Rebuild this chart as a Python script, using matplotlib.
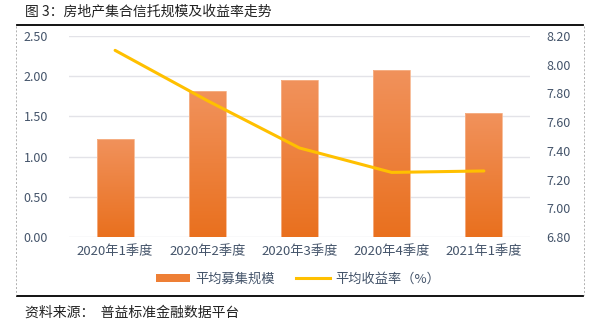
import numpy as np
import matplotlib.pyplot as plt
from matplotlib.lines import Line2D
from matplotlib.patches import Patch

plt.rcParams['font.family'] = ['Noto Sans CJK SC', 'DejaVu Sans']

# data
quarters = ['2020年1季度', '2020年2季度', '2020年3季度', '2020年4季度', '2021年1季度']
avg_scale = [1.22, 1.82, 1.95, 2.08, 1.54]       # 平均募集规模 (left axis)
avg_yield = [8.10, 7.75, 7.42, 7.25, 7.26]       # 平均收益率 % (right axis)

left_ticks = [0, 0.5, 1.0, 1.5, 2.0, 2.5]
right_ticks = [6.8, 7.0, 7.2, 7.4, 7.6, 7.8, 8.0, 8.2]

tick_col = '#44546A'
grid_col = '#E3E3E8'
line_col = '#FFC000'

fig = plt.figure(figsize=(5.97, 3.26), dpi=100)
ax = fig.add_axes([69/597, 1-237/326, (530-69)/597, (237-36)/326])
ax2 = ax.twinx()

x = np.arange(len(quarters))
bw = 0.40

# bars with a vertical gradient (light top, deeper orange bottom)
bars = ax.bar(x, avg_scale, width=bw, color='none', edgecolor='#F6B48C', linewidth=0.6, zorder=2)
top_c = np.array([241, 146, 92]) / 255
bot_c = np.array([233, 112, 30]) / 255
grad = np.linspace(0, 1, 256)[:, None]
img = top_c[None, None, :] * (1 - grad[..., None]) + bot_c[None, None, :] * grad[..., None]
for b in bars:
    x0, w, h = b.get_x(), b.get_width(), b.get_height()
    im = ax.imshow(img, extent=[x0, x0 + w, 0, h], aspect='auto', zorder=1.5, origin='upper')
    im.set_clip_path(b)

ax.set_xlim(-0.5, len(quarters) - 0.5)
ax.set_ylim(0, 2.5)
ax.set_yticks(left_ticks)
ax.set_yticklabels([f'{v:.2f}' for v in left_ticks])
ax.set_xticks(x)
ax.set_xticklabels(quarters)
ax.grid(axis='y', color=grid_col, linewidth=1.0, zorder=0)
ax.set_axisbelow(True)

ax2.plot(x, avg_yield, color=line_col, linewidth=2.2, solid_capstyle='round', zorder=3)
ax2.set_ylim(6.8, 8.2)
ax2.set_yticks(right_ticks)
ax2.set_yticklabels([f'{v:.2f}' for v in right_ticks])

for a in (ax, ax2):
    for s in a.spines.values():
        s.set_visible(False)
    a.tick_params(length=0, labelsize=9, colors=tick_col)
ax.tick_params(axis='y', pad=15)
ax2.tick_params(axis='y', pad=12)
ax.tick_params(axis='x', pad=6, labelsize=9.5)
ax.set_zorder(ax2.get_zorder() - 1)
ax2.patch.set_visible(False)

# legend
handles = [Patch(facecolor='#EE7F35', edgecolor='none'),
           Line2D([0], [0], color=line_col, linewidth=2.2)]
fig.legend(handles, ['平均募集规模', '平均收益率（%）'], loc='center', bbox_to_anchor=(298/597, 1-279/326),
           ncol=2, frameon=False, fontsize=9.5, labelcolor=tick_col, handlelength=2.6,
           handleheight=0.5, columnspacing=1.6, handletextpad=0.4)

# frame lines and texts
fig.add_artist(Line2D([17/597, 583/597], [1-25/326, 1-25/326], color='black', linewidth=1.3))
fig.add_artist(Line2D([17/597, 583/597], [1-296/326, 1-296/326], color='black', linewidth=1.3))
for xx in (16/597, 584/597):
    fig.add_artist(Line2D([xx, xx], [1-26/326, 1-295/326], color='#B0B0B0', linewidth=0.7, linestyle=(0, (2, 2))))

fig.text(25/597, 1-11/326, '图 3：房地产集合信托规模及收益率走势', fontsize=10, va='center', ha='left', color='#222222')
fig.text(25/597, 1-313/326, '资料来源：  普益标准金融数据平台', fontsize=10, va='center', ha='left', color='#222222')

fig.savefig('out.png', dpi=100)
